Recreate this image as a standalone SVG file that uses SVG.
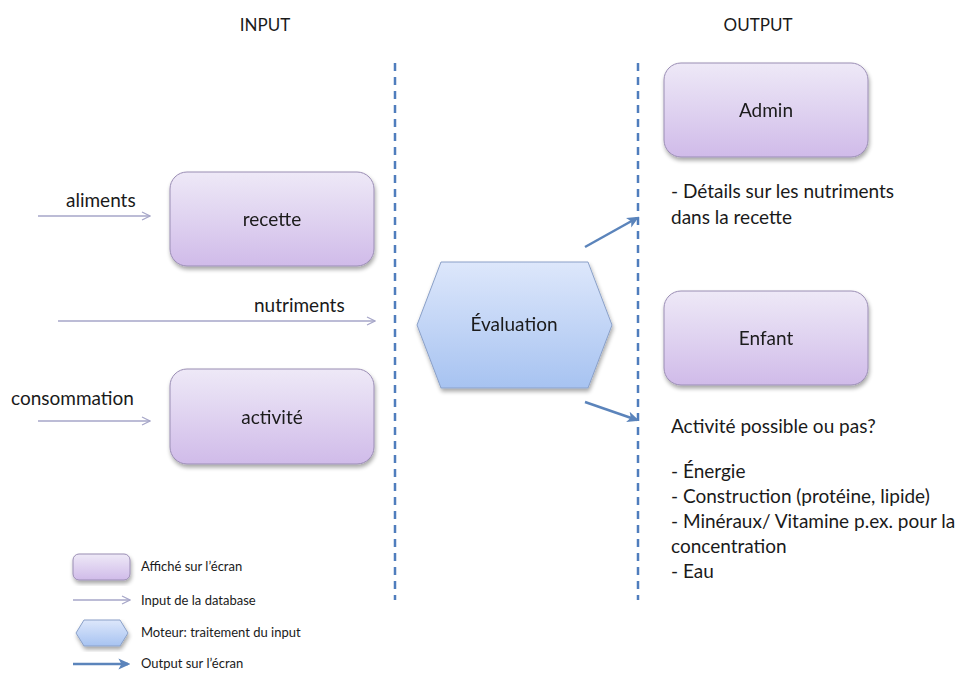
<svg xmlns="http://www.w3.org/2000/svg" width="964" height="673" viewBox="0 0 964 673">
  <defs>
    <linearGradient id="gBox" x1="0" y1="0" x2="0" y2="1">
      <stop offset="0" stop-color="#eee9f7"/>
      <stop offset="1" stop-color="#d0bbe9"/>
    </linearGradient>
    <linearGradient id="gHex" x1="0" y1="0" x2="0" y2="1">
      <stop offset="0" stop-color="#dde7fb"/>
      <stop offset="1" stop-color="#a7c3f1"/>
    </linearGradient>
    <filter id="shadow" x="-10%" y="-10%" width="125%" height="130%">
      <feGaussianBlur in="SourceAlpha" stdDeviation="2"/>
      <feOffset dx="1" dy="2.5" result="b"/>
      <feComponentTransfer><feFuncA type="linear" slope="0.35"/></feComponentTransfer>
      <feMerge><feMergeNode/><feMergeNode in="SourceGraphic"/></feMerge>
    </filter>
    <marker id="openHead" viewBox="0 0 10 10" refX="9" refY="5" markerWidth="10" markerHeight="10" markerUnits="userSpaceOnUse" orient="auto">
      <path d="M1,1 L9,5 L1,9" fill="none" stroke="#a6a6c8" stroke-width="1.2"/>
    </marker>
    <marker id="solidHead" viewBox="0 0 10 10" refX="8" refY="5" markerWidth="12" markerHeight="12" markerUnits="userSpaceOnUse" orient="auto">
      <path d="M0,0.5 L10,5 L0,9.5 L2.5,5 Z" fill="#5b84bb"/>
    </marker>
  </defs>
  <style>
    text { font-family: "Lato", "Liberation Sans", sans-serif; fill: #1a1a1a; }
    .head { font-size: 17px; }
    .lbl { font-size: 19px; }
    .body { font-size: 19px; }
    .leg { font-size: 13px; }
    .box { fill: url(#gBox); stroke: #9a8db4; stroke-width: 1; }
    .hex { fill: url(#gHex); stroke: #8aa0c8; stroke-width: 1; }
    .in { stroke: #a6a6c8; stroke-width: 1.3; fill: none; marker-end: url(#openHead); }
    .out { stroke: #5b84bb; stroke-width: 2.5; fill: none; marker-end: url(#solidHead); }
    .sep { stroke: #4f7dbd; stroke-width: 2.5; stroke-dasharray: 8 6; fill: none; }
  </style>

  <rect width="964" height="673" fill="#ffffff"/>

  <!-- column headings -->
  <text class="head" x="265" y="31" text-anchor="middle">INPUT</text>
  <text class="head" x="758" y="31" text-anchor="middle">OUTPUT</text>

  <!-- separators -->
  <g id="separators">
    <line class="sep" x1="395" y1="63" x2="395" y2="600"/>
    <line class="sep" x1="638" y1="63" x2="638" y2="600"/>
  </g>

  <!-- nodes -->
  <g id="recette" filter="url(#shadow)">
    <rect class="box" x="170" y="172" width="204" height="94" rx="17"/>
    <text class="lbl" x="272" y="226" text-anchor="middle">recette</text>
  </g>
  <g id="activite" filter="url(#shadow)">
    <rect class="box" x="170" y="369" width="204" height="95" rx="17"/>
    <text class="lbl" x="272" y="424" text-anchor="middle">activité</text>
  </g>
  <g id="evaluation" filter="url(#shadow)">
    <polygon class="hex" points="417,325 441,262 588,262 612,325 588,388 441,388"/>
    <text class="lbl" x="514" y="331" text-anchor="middle">Évaluation</text>
  </g>
  <g id="admin" filter="url(#shadow)">
    <rect class="box" x="664" y="63" width="204" height="94" rx="17"/>
    <text class="lbl" x="766" y="117" text-anchor="middle">Admin</text>
  </g>
  <g id="enfant" filter="url(#shadow)">
    <rect class="box" x="664" y="291" width="204" height="94" rx="17"/>
    <text class="lbl" x="766" y="345" text-anchor="middle">Enfant</text>
  </g>

  <!-- connectors -->
  <g id="connectors">
    <line class="in" x1="38" y1="216" x2="150" y2="216"/>
    <line class="in" x1="58" y1="321" x2="375" y2="321"/>
    <line class="in" x1="38" y1="421" x2="150" y2="421"/>
    <line class="out" x1="585" y1="247" x2="637" y2="218"/>
    <line class="out" x1="585" y1="402" x2="637" y2="420"/>
  </g>

  <!-- input labels -->
  <text class="lbl" x="66" y="207">aliments</text>
  <text class="lbl" x="254" y="312">nutriments</text>
  <text class="lbl" x="11" y="405">consommation</text>

  <!-- output descriptions -->
  <text class="body" x="671" y="198">- Détails sur les nutriments</text>
  <text class="body" x="671" y="224">dans la recette</text>
  <text class="body" x="671" y="433">Activité possible ou pas?</text>
  <text class="body" x="671" y="478">- Énergie</text>
  <text class="body" x="671" y="503">- Construction (protéine, lipide)</text>
  <text class="body" x="671" y="528">- Minéraux/ Vitamine p.ex. pour la</text>
  <text class="body" x="671" y="553">concentration</text>
  <text class="body" x="671" y="578">- Eau</text>

  <!-- legend -->
  <g id="legend">
    <rect class="box" x="73" y="554" width="57" height="26" rx="6" filter="url(#shadow)"/>
    <text class="leg" x="141" y="571">Affiché sur l’écran</text>
    <line class="in" x1="73" y1="600" x2="130" y2="600"/>
    <text class="leg" x="141" y="605">Input de la database</text>
    <polygon class="hex" points="76,633 84,620 120,620 128,633 120,646 84,646" filter="url(#shadow)"/>
    <text class="leg" x="141" y="637">Moteur: traitement du input</text>
    <line class="out" x1="73" y1="664" x2="128" y2="664"/>
    <text class="leg" x="141" y="668">Output sur l’écran</text>
  </g>
</svg>
